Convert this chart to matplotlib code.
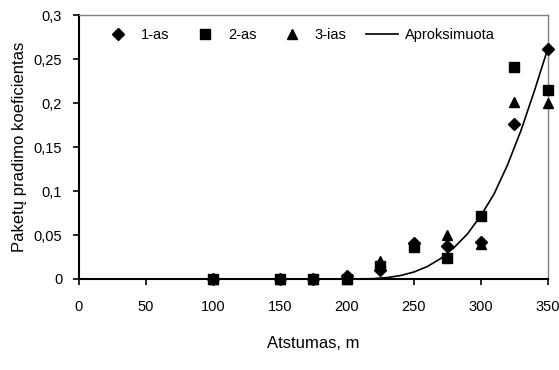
import matplotlib
matplotlib.use("Agg")
import matplotlib.pyplot as plt
from matplotlib.ticker import FuncFormatter

plt.rcParams['font.family'] = ['Liberation Sans', 'DejaVu Sans']

# data
dist = [100, 150, 175, 200, 225, 250, 275, 300, 325, 350]
s1 = [0.0, 0.0, 0.0, 0.003, 0.010, 0.041, 0.038, 0.042, 0.176, 0.262]
s2 = [0.0, 0.0, 0.0, 0.0, 0.015, 0.036, 0.024, 0.072, 0.241, 0.215]
s3 = [0.0, 0.0, 0.0, 0.0, 0.020, 0.040, 0.050, 0.040, 0.201, 0.200]

fit_x = [200, 210, 220, 230, 240, 250, 260, 270, 280, 290, 300, 310, 320, 330, 340, 350]
fit_y = [0.0, 0.0, 0.0004, 0.0016, 0.0039, 0.0079, 0.0141, 0.0232, 0.0357, 0.0512,
         0.072, 0.097, 0.130, 0.169, 0.214, 0.262]

fig = plt.figure(figsize=(5.59, 3.70), dpi=100)
ax = fig.add_axes([0.141, 0.246, 0.839, 0.713])

ax.plot(dist, s1, 'D', color='black', ms=6, ls='none', label='1-as', clip_on=False, zorder=3)
ax.plot(dist, s2, 's', color='black', ms=7.5, ls='none', label='2-as', clip_on=False, zorder=3)
ax.plot(dist, s3, '^', color='black', ms=7.5, ls='none', label='3-ias', clip_on=False, zorder=3)
ax.plot(fit_x, fit_y, '-', color='black', lw=1.2, label='Aproksimuota', zorder=2)

ax.set_xlim(0, 350)
ax.set_ylim(0, 0.3)
ax.set_xticks(range(0, 351, 50))
ax.set_yticks([0, 0.05, 0.1, 0.15, 0.2, 0.25, 0.3])
ax.yaxis.set_major_formatter(FuncFormatter(
    lambda v, p: '0' if v == 0 else ('%g' % round(v, 2)).replace('.', ',')))

for side in ('top', 'right'):
    ax.spines[side].set_color('#808080')
    ax.spines[side].set_linewidth(1.0)
for side in ('left', 'bottom'):
    ax.spines[side].set_color('black')
    ax.spines[side].set_linewidth(1.5)

ax.tick_params(direction='out', length=4, width=1.2, labelsize=10.5, colors='black')
ax.tick_params(axis='y', pad=8)
ax.tick_params(axis='x', pad=11)
ax.set_xlabel('Atstumas, m', fontsize=12, labelpad=16)
ax.set_ylabel('Paketų pradimo koeficientas', fontsize=12, labelpad=5)

ax.legend(loc='upper left', bbox_to_anchor=(0.021, 1.0), ncol=4, frameon=False,
          fontsize=10.5, handlelength=2.2, columnspacing=1.3, handletextpad=0.5)

fig.savefig('out.png', dpi=100)
